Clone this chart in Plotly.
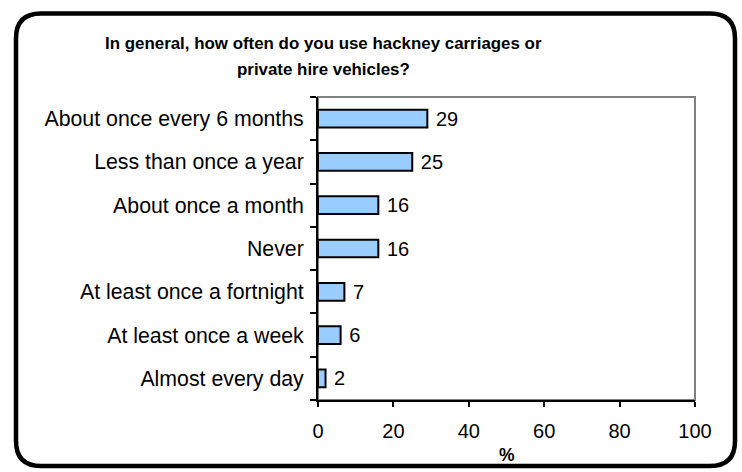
import plotly.graph_objects as go

# Survey responses, listed bottom-to-top as drawn on the category axis
categories = [
    "Almost every day",
    "At least once a week",
    "At least once a fortnight",
    "Never",
    "About once a month",
    "Less than once a year",
    "About once every 6 months",
]
percentages = [2, 6, 7, 16, 16, 25, 29]
x_ticks = [0, 20, 40, 60, 80, 100]

title_lines = [
    "In general, how often do you use hackney carriages or",
    "private hire vehicles?",
]
x_title = "%"

W, H = 742, 472
PL, PR, PT, PB = 318, 695, 97, 400  # plot area in pixels


def px_x(p):
    return (p - PL) / (PR - PL)


def px_y(p):
    return (PB - p) / (PB - PT)


FONT = "Liberation Sans, Arial, sans-serif"

fig = go.Figure()
fig.add_trace(go.Bar(
    y=categories,
    x=percentages,
    orientation="h",
    marker=dict(color="#99CCFF", line=dict(color="black", width=2)),
    texttemplate=" %{x}",
    textposition="outside",
    constraintext="none",
    textfont=dict(family=FONT, size=20, color="black"),
    cliponaxis=False,
    hoverinfo="skip",
))

# Rounded outer frame
L, T, R, B, r = 16, 13.5, 735, 466, 25
pts = [
    ("M", [(L + r, T)]),
    ("L", [(R - r, T)]),
    ("Q", [(R, T), (R, T + r)]),
    ("L", [(R, B - r)]),
    ("Q", [(R, B), (R - r, B)]),
    ("L", [(L + r, B)]),
    ("Q", [(L, B), (L, B - r)]),
    ("L", [(L, T + r)]),
    ("Q", [(L, T), (L + r, T)]),
]
path = ""
for cmd, coords in pts:
    path += cmd + " ".join(f"{px_x(a):.5f},{px_y(b):.5f}" for a, b in coords) + " "
path += "Z"

shapes = [
    dict(type="path", path=path, xref="paper", yref="paper",
         line=dict(color="black", width=4.5), layer="above"),
    # grey plot-area frame (top and right edges)
    dict(type="rect", x0=0, x1=1, y0=0, y1=1, xref="paper", yref="paper",
         line=dict(color="#808080", width=2), layer="below"),
]

annotations = [
    dict(text=f"<b>{title_lines[0]}</b>", x=px_x(323), y=px_y(43),
         xref="paper", yref="paper", xanchor="center", yanchor="middle",
         showarrow=False, font=dict(family=FONT, size=16.9, color="black")),
    dict(text=f"<b>{title_lines[1]}</b>", x=px_x(323), y=px_y(70),
         xref="paper", yref="paper", xanchor="center", yanchor="middle",
         showarrow=False, font=dict(family=FONT, size=16.9, color="black")),
    dict(text=f"<b>{x_title}</b>", x=0.5, y=px_y(455),
         xref="paper", yref="paper", xanchor="center", yanchor="middle",
         showarrow=False, font=dict(family=FONT, size=17.5, color="black")),
]

fig.update_layout(
    width=W, height=H,
    margin=dict(l=PL, r=W - PR, t=PT, b=H - PB),
    paper_bgcolor="white", plot_bgcolor="white",
    showlegend=False,
    bargap=0.59,
    shapes=shapes,
    annotations=annotations,
    font=dict(family=FONT, color="black"),
    # overlay axis carrying the short inner marks at each category centre
    yaxis2=dict(
        overlaying="y", side="left", range=[-0.5, len(categories) - 0.5],
        tickvals=list(range(len(categories))), showticklabels=False,
        ticks="inside", ticklen=4, tickwidth=1, tickcolor="#333333",
        showgrid=False, zeroline=False, showline=False, fixedrange=True,
    ),
)
fig.update_xaxes(
    range=[0, 100], tickvals=x_ticks, showgrid=False, zeroline=False,
    showline=True, linecolor="black", linewidth=2,
    ticks="outside", ticklen=5, tickwidth=1.5, tickcolor="black",
    ticklabelstandoff=7,
    tickfont=dict(family=FONT, size=20, color="black"),
)
fig.update_yaxes(
    selector=dict(overlaying=None),
    type="category", categoryorder="array", categoryarray=categories,
    showgrid=False, zeroline=False,
    showline=True, linecolor="black", linewidth=2,
    ticks="outside", tickson="boundaries", ticklen=6, tickwidth=1.5,
    tickcolor="black", ticklabelstandoff=8,
    tickfont=dict(family=FONT, size=21.3, color="black"),
)

fig.write_html("out.html")
